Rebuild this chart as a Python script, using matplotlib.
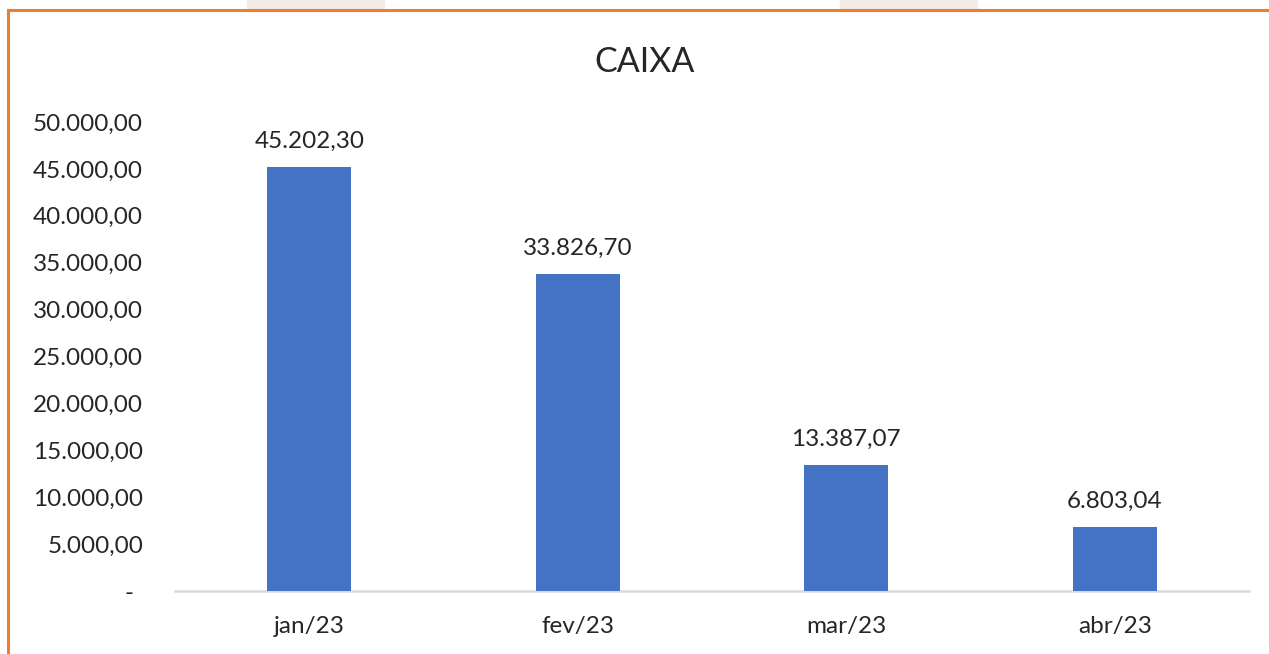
import matplotlib.pyplot as plt
import matplotlib.transforms as mtransforms
from matplotlib.patches import Rectangle

# data
months = ['jan/23', 'fev/23', 'mar/23', 'abr/23']
caixa = [45202.30, 33826.70, 13387.07, 6803.04]
yticks = [0, 5000, 10000, 15000, 20000, 25000, 30000, 35000, 40000, 45000, 50000]


def br_fmt(v):
    s = f'{v:,.2f}'
    return s.replace(',', '#').replace('.', ',').replace('#', '.')


plt.rcParams['font.family'] = ['Lato', 'DejaVu Sans']

W, H = 1269, 654
fig = plt.figure(figsize=(W / 100, H / 100), dpi=100)
fig.patch.set_facecolor('white')

# shaded tabs above the frame and the orange frame itself
for x0, x1 in [(247, 384), (840, 977)]:
    fig.patches.append(Rectangle((x0 / W, 1 - 10 / H), (x1 - x0) / W, 10 / H,
                                 transform=fig.transFigure, color='#f2ebe6', zorder=0))
fig.patches.append(Rectangle((8 / W, -0.1), 1.2, 1 - 10 / H + 0.1,
                             transform=fig.transFigure, facecolor='white',
                             edgecolor='#ed7d31', linewidth=2.2, zorder=1))

ax = fig.add_axes([175 / W, 1 - 591 / H, (1249 - 175) / W, (591 - 122) / H])
ax.set_zorder(3)
ax.set_facecolor('none')
x = range(len(months))
bars = ax.bar(x, caixa, width=0.313, color='#4472c4', zorder=3)

for b, v in zip(bars, caixa):
    ax.annotate(br_fmt(v), (b.get_x() + b.get_width() / 2, v), xytext=(0, 11),
                textcoords='offset points', ha='center', va='bottom',
                fontsize=17.5, color='#262626')

ax.set_xlim(-0.5, 3.5)
ax.set_ylim(0, 50000)
ax.set_xticks(list(x))
ax.set_xticklabels(months)
ax.set_yticks(yticks)
ax.set_yticklabels(['-'] + [br_fmt(v) for v in yticks[1:]])
ax.tick_params(axis='both', length=0, labelsize=17.5, labelcolor='#262626')
ax.tick_params(axis='y', pad=23)
ax.tick_params(axis='x', pad=18)

# excel puts the zero dash a bit left of the number column
lab0 = ax.get_yticklabels()[0]
lab0.set_transform(lab0.get_transform() + mtransforms.ScaledTranslation(-10 / 100, 0, fig.dpi_scale_trans))

for s in ['top', 'right', 'left']:
    ax.spines[s].set_visible(False)
ax.spines['bottom'].set_color('#d9d9d9')
ax.spines['bottom'].set_linewidth(1.8)

fig.text(645 / W, 1 - 62 / H, 'CAIXA', ha='center', va='center', fontsize=24.5,
         color='#262626', zorder=4)

fig.savefig('out.png', dpi=100)
